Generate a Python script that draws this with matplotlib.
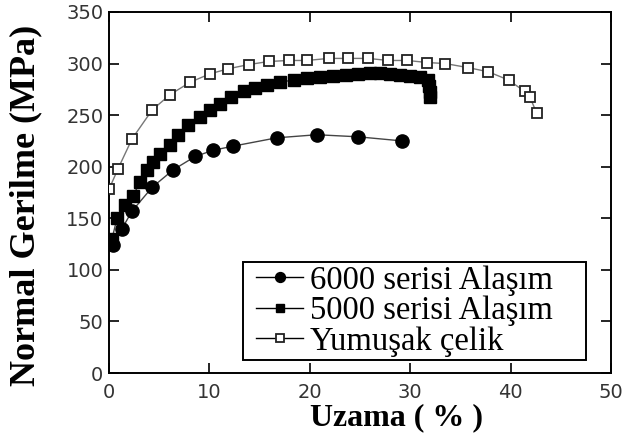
import matplotlib
matplotlib.use("Agg")
import matplotlib.pyplot as plt
from matplotlib.patches import Rectangle

# 6000 serisi Alaşım
x6000 = [0.4, 1.3, 2.3, 4.3, 6.4, 8.6, 10.4, 12.4, 16.7, 20.7, 24.8, 29.2]
y6000 = [124, 140, 157, 180, 197, 210, 216, 220, 228, 231, 229, 225]

# 5000 serisi Alaşım
x5000 = [0.3, 0.8, 1.6, 2.4, 3.1, 3.75, 4.4, 5.1, 6.1, 6.9, 7.9, 9.1, 10.05, 11.05,
         12.2, 13.4, 14.5, 15.7, 17.0, 18.4, 19.7, 21.0, 22.3, 23.6, 24.8, 26.0,
         27.0, 28.0, 29.0, 30.0, 31.0, 31.8, 31.9, 32.0, 32.0]
y5000 = [130, 150, 163, 172, 185, 197, 205, 212, 221, 231, 240, 248, 255, 261,
         268, 273, 276, 279, 282, 284, 286, 287, 288, 289, 290, 291,
         291, 290, 289, 288, 287, 284, 278, 272, 268]

# Yumuşak çelik
xcelik = [0.0, 0.9, 2.3, 4.3, 6.1, 8.1, 10.05, 11.9, 13.9, 15.9, 17.9, 19.7, 21.9,
          23.8, 25.8, 27.8, 29.7, 31.7, 33.5, 35.8, 37.8, 39.8, 41.4, 41.9, 42.6]
ycelik = [178, 198, 227, 255, 270, 282, 290, 295, 299, 302, 303, 303, 305,
          305, 305, 303, 303, 301, 300, 296, 292, 284, 273, 268, 252]

labels = ["6000 serisi Alaşım", "5000 serisi Alaşım", "Yumuşak çelik"]
xticks = [0, 10, 20, 30, 40, 50]
yticks = [0, 50, 100, 150, 200, 250, 300, 350]

fig = plt.figure(figsize=(6.22, 4.44), dpi=100)
ax = fig.add_axes([0.1752, 0.1599, 0.8071, 0.8131])

lc = "#444444"
ax.plot(x6000, y6000, color=lc, lw=1.0, marker="o", ms=9.5,
        mfc="black", mec="black", label=labels[0], zorder=3)
ax.plot(x5000, y5000, color=lc, lw=1.0, marker="s", ms=8.5,
        mfc="black", mec="black", label=labels[1], zorder=3)
ax.plot(xcelik, ycelik, color="#777777", lw=1.0, marker="s", ms=7.2,
        mfc="white", mec="#222222", mew=1.3, label=labels[2], zorder=3)

ax.set_xlim(0, 50)
ax.set_ylim(0, 350)
ax.set_xticks(xticks)
ax.set_yticks(yticks)
ax.tick_params(direction="in", length=7, width=1.2, top=True, right=True,
               labelsize=14, labelcolor="#333333")
ax.tick_params(axis="x", pad=7)
ax.tick_params(axis="y", pad=4)
for lab in ax.get_xticklabels() + ax.get_yticklabels():
    lab.set_family("DejaVu Sans")
for s in ax.spines.values():
    s.set_linewidth(1.4)

ax.set_xlabel("Uzama ( % )", family="Liberation Serif", fontweight="bold",
              fontsize=23)
ax.set_ylabel("Normal Gerilme (MPa)", family="Liberation Serif", fontweight="bold",
              fontsize=26)
ax.xaxis.label.set_va("center")
ax.yaxis.label.set_va("center")
ax.xaxis.set_label_coords(0.572, -0.123)
ax.yaxis.set_label_coords(-0.165, 0.465)

# legend frame
ax.add_patch(Rectangle((0.267, 0.036), 0.683, 0.2715, transform=ax.transAxes,
                       facecolor="white", edgecolor="black", lw=1.4, zorder=4))
leg = ax.legend(loc="center left", bbox_to_anchor=(0.293, 0.172), frameon=False,
                prop={"family": "Liberation Serif", "size": 23.5},
                markerscale=0.75, handlelength=1.45, handletextpad=0.2,
                labelspacing=0.0, borderpad=0.0, borderaxespad=0)
leg.set_zorder(5)
for h in leg.legend_handles:
    h.set_color("black")

fig.savefig("out.png", dpi=100)
